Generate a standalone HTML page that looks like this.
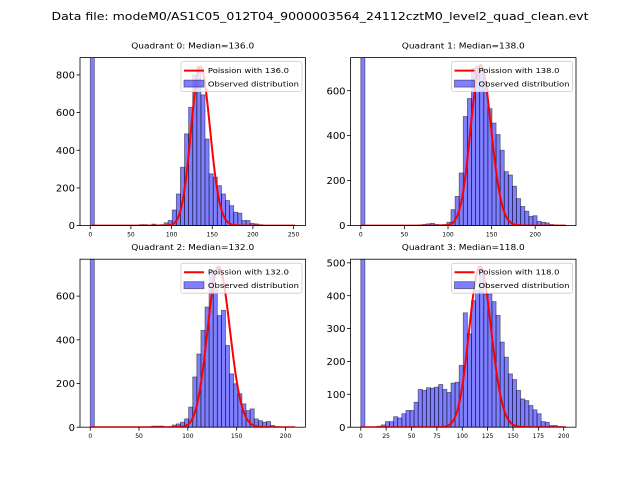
<!DOCTYPE html>
<html><head><meta charset="utf-8"><style>
body{margin:0;background:#fff}
svg{display:block;font-family:"DejaVu Sans","Liberation Sans",sans-serif}
</style></head><body>
<svg id="fig" width="640" height="480" viewBox="0 0 640 480">
<text x="320" y="20" text-anchor="middle" font-size="10.5" textLength="537" lengthAdjust="spacingAndGlyphs">Data file: modeM0/AS1C05_012T04_9000003564_24112cztM0_level2_quad_clean.evt</text>
</svg>
<script>
const titles=["Quadrant 0: Median=136.0","Quadrant 1: Median=138.0","Quadrant 2: Median=132.0","Quadrant 3: Median=118.0"];
const medians=[136,138,132,118];
const poissonPeaks=[845,714,734,488];
const dataMax=[252,235,210,202];
const yLimits=[892,747,769,511];
const xTickLabels=[[0,50,100,150,200,250],[0,50,100,150,200],[0,50,100,150,200],[0,25,50,75,100,125,150,175,200]];
const yTickLabels=[[0,200,400,600,800],[0,200,400,600],[0,200,400,600],[0,100,200,300,400,500]];
const counts0=[2000,0,0,0,0,0,0,0,0,0,0,0,5,5,0,8,3,5,15,27,83,168,310,487,628,800,845,694,460,275,257,212,168,133,106,71,66,27,27,12,9,5,0,0,0,0,0,0,0,0];
const counts1=[2000,0,0,0,0,0,0,0,0,0,0,0,0,0,3,5,8,10,5,4,5,15,71,130,234,485,565,700,710,690,620,520,456,405,335,240,225,175,120,85,64,41,44,19,15,12,5,3,2,1];
const counts2=[2000,0,0,0,0,0,0,0,0,0,0,0,0,0,0,5,5,5,0,3,10,15,23,38,92,230,335,443,550,720,634,511,535,374,244,199,153,107,76,84,38,30,23,26,8,3,0,0,0,0];
const counts3=[2000,0,0,0,3,7,17,17,32,28,41,51,51,76,115,112,120,119,122,130,115,106,134,137,188,348,284,385,416,480,405,405,382,340,259,213,162,145,112,86,81,66,53,41,17,15,5,5,2,1];
const allCounts=[counts0,counts1,counts2,counts3];

const NS="http://www.w3.org/2000/svg";
const svg=document.getElementById('fig');
function mk(tag,attrs,parent){const e=document.createElementNS(NS,tag);for(const k in attrs)e.setAttribute(k,attrs[k]);(parent||svg).appendChild(e);return e;}
const W=225.45,H=168;
const lefts=[80,350.55,80,350.55],tops=[57.6,57.6,259.2,259.2];
function logPmf(k,m){let s=k*Math.log(m)-m;for(let i=2;i<=k;i++)s-=Math.log(i);return s;}

for(let q=0;q<4;q++){
  const L=lefts[q],T=tops[q],c=allCounts[q],xmax=dataMax[q];
  const span=xmax,x0=-0.05*span,x1=xmax+0.05*span;
  const ymax=yLimits[q];
  const sx=v=>L+(v-x0)/(x1-x0)*W;
  const sy=v=>T+H-v/ymax*H;
  const g=mk('g',{});
  
  
  const t=mk('text',{x:L+W/2,y:T-9,'text-anchor':'middle','font-size':'8.2',textLength:'123',lengthAdjust:'spacingAndGlyphs'},g);
  t.textContent=titles[q];
  
  
  const cp=mk('clipPath',{id:'cp'+q},g);mk('rect',{x:L,y:T,width:W,height:H},cp);
  const bars=mk('g',{'clip-path':'url(#cp'+q+')'},g);
  const bw=xmax/c.length;
  c.forEach((v,i)=>{
    const xa=sx(i*bw),xb=sx((i+1)*bw),y=sy(v);
    const r=mk('rect',{x:xa,y:y,width:xb-xa,height:T+H-y,fill:'rgba(0,0,255,0.5)',stroke:'rgba(0,0,0,0.5)','stroke-width':'0.8'},bars);
    
    
  });
  const m=medians[q],amp=poissonPeaks[q]/Math.exp(logPmf(Math.floor(m),m));
  let d='';
  for(let k=0;k<=Math.floor(xmax);k++){const v=amp*Math.exp(logPmf(k,m));d+=(k?'L':'M')+sx(k).toFixed(2)+' '+sy(v).toFixed(2);}
  const p=mk('path',{d:d,fill:'none',stroke:'red','stroke-width':'2','clip-path':'url(#cp'+q+')'},g);
  
  
  const fr=mk('rect',{x:L,y:T,width:W,height:H,fill:'none',stroke:'#000','stroke-width':'0.8'},g);
  
  
  xTickLabels[q].forEach(v=>{
    const x=sx(v);
    mk('line',{x1:x,y1:T+H,x2:x,y2:T+H+3.5,stroke:'#000','stroke-width':'0.8'},g);
    const tx=mk('text',{x:x,y:T+H+11,'text-anchor':'middle','font-size':'6'},g);
    tx.textContent=v;
    
    
  });
  yTickLabels[q].forEach(v=>{
    const y=sy(v);
    mk('line',{x1:L-3.5,y1:y,x2:L,y2:y,stroke:'#000','stroke-width':'0.8'},g);
    const ty=mk('text',{x:L-5,y:y+3.6,'text-anchor':'end','font-size':'10'},g);
    ty.textContent=v;
    
    
  });
  const lx=L+W-124.5,ly=T+4;
  const lg=mk('g',{},g);
  
  
  mk('rect',{x:lx,y:ly,width:121,height:30,rx:2,fill:'rgba(255,255,255,0.8)',stroke:'#ccc','stroke-width':'0.8'},lg);
  mk('line',{x1:lx+3,y1:ly+9,x2:lx+23,y2:ly+9,stroke:'red','stroke-width':'2'},lg);
  const l1=mk('text',{x:lx+27,y:ly+11.5,'font-size':'7.2',textLength:'81',lengthAdjust:'spacingAndGlyphs'},lg);l1.textContent='Poission with '+medians[q].toFixed(1);
  
  
  mk('rect',{x:lx+3,y:ly+18.5,width:20,height:7,fill:'rgba(0,0,255,0.5)',stroke:'rgba(0,0,0,0.5)','stroke-width':'0.8'},lg);
  const l2=mk('text',{x:lx+27,y:ly+25,'font-size':'7.2',textLength:'91',lengthAdjust:'spacingAndGlyphs'},lg);l2.textContent='Observed distribution';
  
  
}
</script>
</body></html>
